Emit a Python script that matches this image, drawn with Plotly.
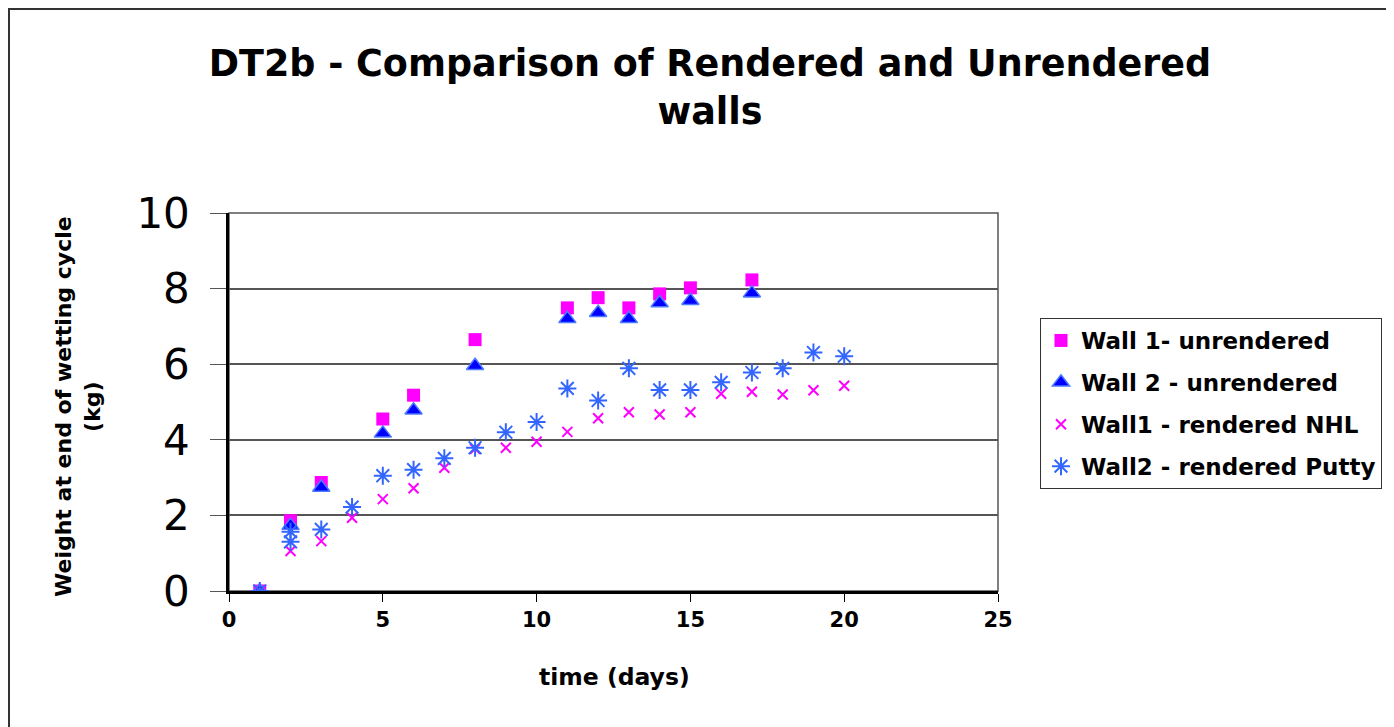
import plotly.graph_objects as go

# Day numbers and weights (kg)
days_w1 = [1, 2, 3, 5, 6, 8, 11, 12, 13, 14, 15, 17]
wall1_unrendered = [0.0, 1.86, 2.87, 4.55, 5.18, 6.65, 7.49, 7.76, 7.49, 7.86, 8.02, 8.23]

days_w2 = [1, 2, 3, 5, 6, 8, 11, 12, 13, 14, 15, 17]
wall2_unrendered = [0.0, 1.73, 2.74, 4.17, 4.78, 5.96, 7.20, 7.36, 7.20, 7.62, 7.68, 7.88]

days_nhl = [1, 2, 3, 4, 5, 6, 7, 8, 9, 10, 11, 12, 13, 14, 15, 16, 17, 18, 19, 20]
wall1_nhl = [0.0, 1.06, 1.32, 1.94, 2.43, 2.72, 3.26, 3.76, 3.79, 3.95, 4.21, 4.57, 4.73,
             4.67, 4.73, 5.22, 5.27, 5.20, 5.31, 5.43]

days_putty = [1, 2, 2, 3, 4, 5, 6, 7, 8, 9, 10, 11, 12, 13, 14, 15, 16, 17, 18, 19, 20]
wall2_putty = [0.0, 1.57, 1.30, 1.63, 2.22, 3.05, 3.21, 3.51, 3.79, 4.20, 4.47, 5.36, 5.04,
               5.89, 5.32, 5.32, 5.52, 5.78, 5.89, 6.31, 6.21]

x_ticks = [0, 5, 10, 15, 20, 25]
y_ticks = [0, 2, 4, 6, 8, 10]

FONT = "DejaVu Sans, Arial, sans-serif"

# page has an 8px body margin, so figure coordinates are page minus 8
W, H = 1386, 719
L, T, PW, PH = 221, 205, 769, 378

fig = go.Figure()
fig.add_trace(go.Scatter(
    x=days_w1, y=wall1_unrendered, mode="markers", name="Wall 1- unrendered", legendgroup="a",
    marker={"symbol": "square", "size": 13, "color": "#FF00FF"},
))
fig.add_trace(go.Scatter(
    x=days_w2, y=wall2_unrendered, mode="markers", name="Wall 2 - unrendered", legendgroup="b",
    marker={"symbol": "triangle-up", "size": 15, "color": "#0000FF",
            "line": {"color": "#4D7BFF", "width": 1.5}},
))
fig.add_trace(go.Scatter(
    x=days_nhl, y=wall1_nhl, mode="markers", name="Wall1 - rendered NHL", legendgroup="c",
    marker={"symbol": "x-thin-open", "size": 10, "color": "#FF00FF",
            "line": {"color": "#FF00FF", "width": 2}},
))
fig.add_trace(go.Scatter(
    x=days_putty, y=wall2_putty, mode="markers", name="Wall2 - rendered Putty", legendgroup="d",
    marker={"symbol": "asterisk-open", "size": 15, "color": "#3366FF",
            "line": {"color": "#3366FF", "width": 2}},
))

fig.update_layout(
    width=W, height=H,
    paper_bgcolor="white", plot_bgcolor="white",
    margin={"l": L, "r": W - L - PW, "t": T, "b": H - T - PH, "autoexpand": False},
    showlegend=True,
    title={
        "text": "<b>DT2b - Comparison of Rendered and Unrendered<br>walls</b>",
        "x": (702 - L) / PW, "xref": "paper", "xanchor": "center",
        "y": 0.905, "yanchor": "top",
        "font": {"family": FONT, "size": 36.5, "color": "black"},
    },
    legend={
        "x": (1032 - L) / PW, "y": (583 - 310) / PH,
        "xanchor": "left", "yanchor": "top",
        "bordercolor": "#333333", "borderwidth": 1, "bgcolor": "white",
        "font": {"family": FONT, "size": 23, "color": "black", "weight": "bold"},
        "itemwidth": 30, "tracegroupgap": 9, "traceorder": "grouped",
    },
    xaxis={
        "range": [0, 25], "tickvals": x_ticks, "showgrid": False,
        "showline": True, "linecolor": "black", "linewidth": 2.5,
        "ticks": "outside", "ticklen": 8, "tickcolor": "black", "tickwidth": 1,
        "tickfont": {"family": FONT, "size": 21, "color": "black", "weight": "bold"},
        "zeroline": False,
    },
    yaxis={
        "range": [0, 10], "tickvals": y_ticks, "showgrid": True,
        "gridcolor": "#555555", "gridwidth": 1.5,
        "showline": True, "linecolor": "black", "linewidth": 2.5,
        "ticks": "outside", "ticklen": 16, "tickcolor": "#555555", "tickwidth": 1,
        "ticklabelstandoff": 12,
        "tickfont": {"family": FONT, "size": 42, "color": "black"},
        "zeroline": False,
    },
    annotations=[
        {"text": "<b>time (days)</b>", "xref": "paper", "yref": "paper",
         "x": (606 - L) / PW, "y": (583 - 669) / PH, "xanchor": "center", "yanchor": "middle",
         "showarrow": False, "font": {"family": FONT, "size": 23.5, "color": "black"}},
        {"text": "<b>Weight at end of wetting cycle<br>(kg)</b>", "xref": "paper", "yref": "paper",
         "x": (70 - L) / PW, "y": (583 - 399) / PH, "xanchor": "center", "yanchor": "middle",
         "textangle": -90, "showarrow": False,
         "font": {"family": FONT, "size": 22, "color": "black"}},
    ],
    shapes=[
        # plot-area frame (grey top/right)
        {"type": "rect", "xref": "paper", "yref": "paper", "x0": 0, "x1": 1, "y0": 0, "y1": 1,
         "line": {"color": "#555555", "width": 1.5}, "layer": "below"},
        # outer chart border
        {"type": "rect", "xref": "paper", "yref": "paper",
         "xsizemode": "pixel", "ysizemode": "pixel", "xanchor": 0, "yanchor": 0,
         "x0": 1 - L, "x1": W + 20 - L, "y0": -(H - T - PH) - 20, "y1": PH + T - 1,
         "line": {"color": "#333333", "width": 2}},
    ],
)

fig.write_html("out.html")
